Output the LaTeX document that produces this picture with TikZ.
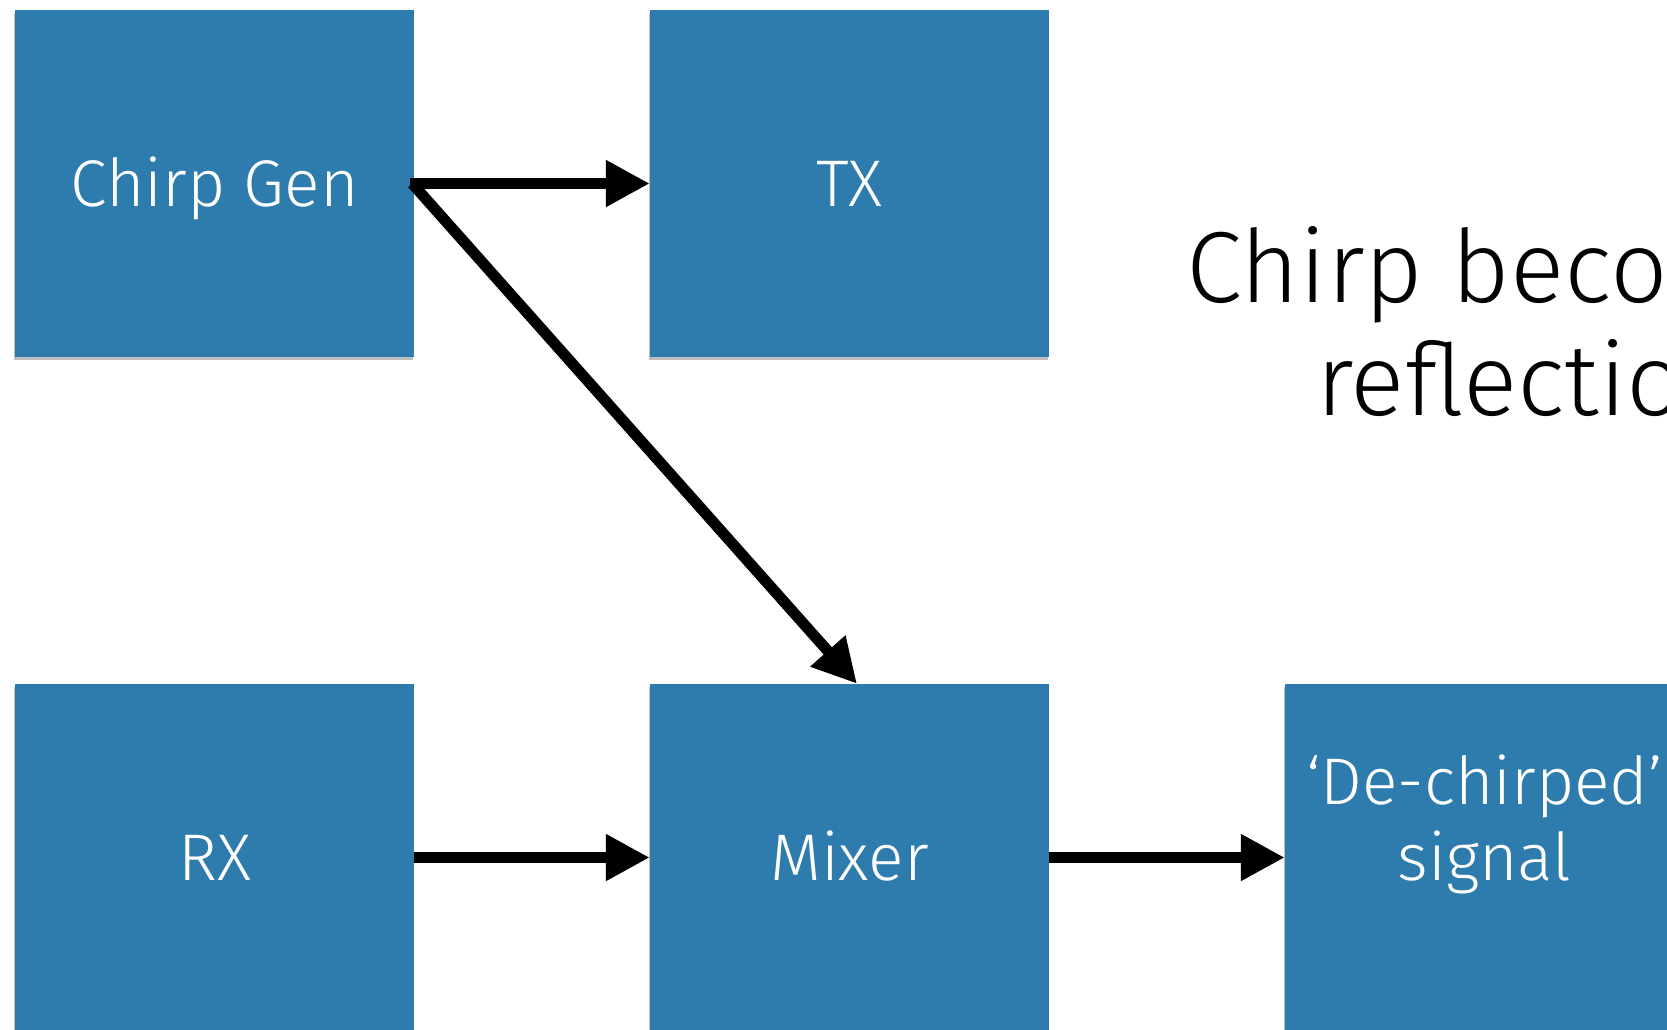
\documentclass[tikz,border=0pt]{standalone}
\usepackage{fontspec}
\setmainfont{Fira Sans Light}
\usetikzlibrary{arrows.meta,shadows,calc}
\definecolor{boxblue}{RGB}{46,123,173}
\begin{document}
\begin{tikzpicture}[x=1pt,y=-1pt,
  block/.style={rectangle, fill=boxblue, minimum width=399pt, minimum height=347pt,
    inner sep=0pt, text=white, font=\fontsize{66}{76}\selectfont, align=center,
    text height=46pt, text depth=0pt,
    drop shadow={shadow xshift=-1.5pt, shadow yshift=-2.5pt, opacity=0.25, fill=black}},
  conn/.style={line width=11pt, -{Triangle[length=44pt,width=44pt]}},
  bigtext/.style={font=\fontsize{101}{113}\selectfont, anchor=base west, inner sep=0pt}]
\useasboundingbox (0,0) rectangle (1667,1029);
\begin{scope}
\clip (0,0) rectangle (1667,1029);
\node[block] (chirpgen) at (214.5,183.5) {Chirp Gen};
\node[block] (tx) at (849.5,183.5) {TX};
\node[block] (rx) at (214.5,857.5) {RX};
\node[block] (mixer) at (849.5,857.5) {Mixer};
\node[block] (dechirp) at (1484.5,857.5) {`De-chirped'\\signal};
\node[bigtext] (bigA) at (1186,302) {Chirp becomes};
\node[bigtext] (bigB) at (1316,415) {reflection};
\draw[conn] ($(chirpgen.east)+(-4,0)$) -- (tx.west);
\draw[conn] ($(chirpgen.east)+(-2,0)$) -- ($(mixer.north)+(7.5,0)$);
\draw[conn] (rx.east) -- (mixer.west);
\draw[conn] (mixer.east) -- (dechirp.west);
\end{scope}
\end{tikzpicture}
\end{document}
